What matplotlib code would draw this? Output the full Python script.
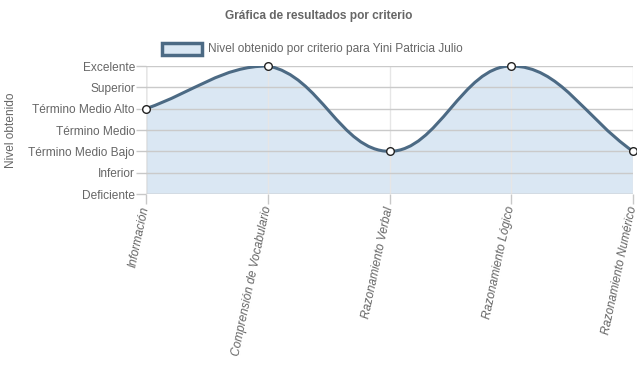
import matplotlib
matplotlib.use("Agg")
import matplotlib.pyplot as plt
from matplotlib.path import Path
from matplotlib.patches import PathPatch, Rectangle

plt.rcParams["font.family"] = ["Liberation Sans", "DejaVu Sans"]

criterios = [
    "Información",
    "Comprensión de Vocabulario",
    "Razonamiento Verbal",
    "Razonamiento Lógico",
    "Razonamiento Numérico",
]
niveles = [
    "Deficiente",
    "Inferior",
    "Término Medio Bajo",
    "Término Medio",
    "Término Medio Alto",
    "Superior",
    "Excelente",
]
valores = [4, 6, 2, 6, 2]

LINE = "#4c6a84"
FILL = "#dae7f3"
TXT = "#666666"
FS = 8.6

W, H = 637, 389
fig = plt.figure(figsize=(W / 100, H / 100), dpi=100)
left, right, top, bottom = 146, 633, 66, 194
ax = fig.add_axes([left / W, 1 - bottom / H, (right - left) / W, (bottom - top) / H])

xmax = len(criterios) - 1
ymax = len(niveles) - 1
ax.set_xlim(0, xmax)
ax.set_ylim(0, ymax)
sx = (right - left) / xmax
sy = (bottom - top) / ymax


def bezier_path(xs, ys, tension=0.4):
    # Chart.js style spline, computed in pixel space then mapped back
    pts = [(x * sx, y * sy) for x, y in zip(xs, ys)]
    n = len(pts)
    ctrl = []
    for i in range(n):
        prev = pts[i - 1] if i > 0 else pts[i]
        cur = pts[i]
        nxt = pts[i + 1] if i < n - 1 else pts[i]
        d01 = ((cur[0] - prev[0]) ** 2 + (cur[1] - prev[1]) ** 2) ** 0.5
        d12 = ((nxt[0] - cur[0]) ** 2 + (nxt[1] - cur[1]) ** 2) ** 0.5
        tot = d01 + d12
        s01 = d01 / tot if tot else 0
        s12 = d12 / tot if tot else 0
        fa, fb = tension * s01, tension * s12
        cp_prev = (cur[0] - fa * (nxt[0] - prev[0]), cur[1] - fa * (nxt[1] - prev[1]))
        cp_next = (cur[0] + fb * (nxt[0] - prev[0]), cur[1] + fb * (nxt[1] - prev[1]))

        def cap(p):
            return (min(max(p[0], 0), xmax * sx), min(max(p[1], 0), ymax * sy))

        ctrl.append((cap(cp_prev), cap(cp_next)))
    verts = [pts[0]]
    codes = [Path.MOVETO]
    for i in range(1, n):
        verts += [ctrl[i - 1][1], ctrl[i][0], pts[i]]
        codes += [Path.CURVE4] * 3
    verts = [(x / sx, y / sy) for x, y in verts]
    return verts, codes


xs = list(range(len(criterios)))
verts, codes = bezier_path(xs, valores)

fill_verts = verts + [(xs[-1], 0), (xs[0], 0), verts[0]]
fill_codes = codes + [Path.LINETO, Path.LINETO, Path.CLOSEPOLY]
ax.add_patch(PathPatch(Path(fill_verts, fill_codes), facecolor=FILL, edgecolor="none", zorder=1))
ax.add_patch(PathPatch(Path(verts, codes), facecolor="none", edgecolor=LINE, lw=2.2, zorder=3,
                       capstyle="round", joinstyle="round"))
ax.plot(xs, valores, "o", ms=5.5, mfc="white", mec="#222222", mew=1.0, zorder=4, clip_on=False)

ax.set_yticks(range(len(niveles)))
ax.set_yticklabels(niveles)
ax.set_xticks(xs)
ax.set_xticklabels(criterios, rotation=78, ha="right", va="center", rotation_mode="anchor",
                   style="italic")
ax.tick_params(axis="both", colors="#c8c8c8", labelcolor=TXT, labelsize=FS, length=7, width=1)
ax.tick_params(axis="y", pad=1)
ax.tick_params(axis="x", pad=2)
ax.grid(axis="y", color="#cacaca", lw=1)
ax.grid(axis="x", color="#e6e6e6", lw=1)
ax.set_axisbelow(False)
for s in ax.spines.values():
    s.set_visible(False)
ax.axvline(0, color="#b5b5b5", lw=1, zorder=2)
ax.axhline(0, color="#c8c8c8", lw=1, zorder=2)

fig.text(11 / W, 1 - 130 / H, "Nivel obtenido", rotation=90, ha="center", va="center",
         color=TXT, fontsize=FS)
fig.text(0.5, 1 - 16 / H, "Gráfica de resultados por criterio", ha="center", va="center",
         color=TXT, fontsize=FS, fontweight="bold")

fig.patches.append(Rectangle((162 / W, 1 - 55 / H), 40 / W, 12 / H, transform=fig.transFigure,
                             facecolor=FILL, edgecolor=LINE, lw=2.5))
fig.text(208 / W, 1 - 49 / H, "Nivel obtenido por criterio para Yini Patricia Julio",
         ha="left", va="center", color=TXT, fontsize=FS)

fig.savefig("out.png", dpi=100)
